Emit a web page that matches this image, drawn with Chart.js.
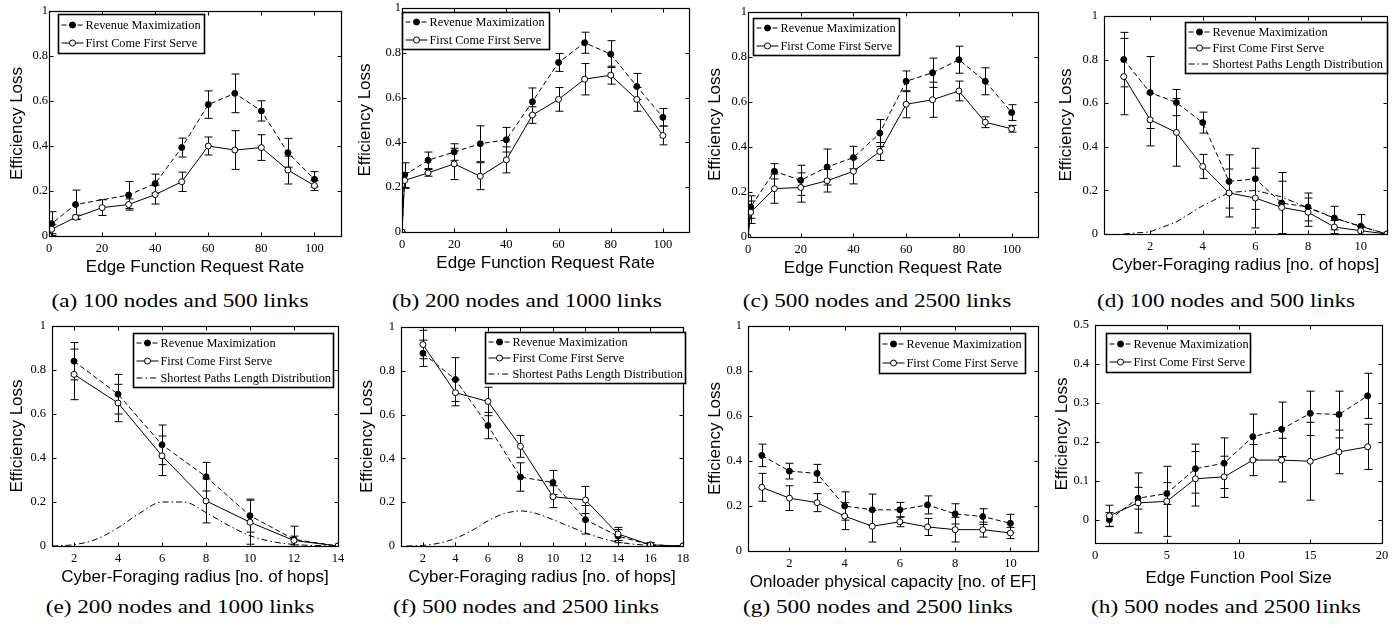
<!DOCTYPE html>
<html lang="en">
<head>
<meta charset="UTF-8">
<title>Efficiency loss</title>
<script src="https://cdn.jsdelivr.net/npm/chart.js"></script>
<style>
  body { margin: 0; background: #fff; width: 1399px; height: 628px; position: relative; overflow: hidden; }
  canvas { position: absolute; }
  .cap { position: absolute; font-family: "Liberation Serif", "Times New Roman", serif; font-size: 19px;
         white-space: nowrap; transform: translate(-50%, -50%) scaleX(1.22); color: #000; }
</style>
</head>
<body>
<script>
// ---------- data ----------
const lossTicks = [0, 0.2, 0.4, 0.6, 0.8, 1];

// (a)-(c): request rate
const rateX = [0, 1, 10, 20, 30, 40, 50, 60, 70, 80, 90, 100];
const rateTicks = [0, 20, 40, 60, 80, 100];

const revA = [0, 0.055, 0.14, null, 0.182, 0.233, 0.393, 0.584, 0.634, 0.556, 0.37, 0.252];
const revErrA = [0, 0.053, 0.064, 0, 0.06, 0.042, 0.042, 0.061, 0.086, 0.045, 0.064, 0.034];
const fcfsA = [0, 0.03, 0.083, 0.126, 0.14, 0.184, 0.241, 0.40, 0.382, 0.393, 0.293, 0.224];
const fcfsErrA = [0, 0.02, 0.01, 0.035, 0.025, 0.042, 0.043, 0.04, 0.086, 0.057, 0.062, 0.022];

const revB = [0, 0.254, 0.32, 0.357, 0.394, 0.412, 0.582, 0.757, 0.845, 0.794, 0.65, 0.512];
const revErrB = [0, 0.055, 0.037, 0.037, 0.08, 0.055, 0.061, 0.04, 0.047, 0.06, 0.058, 0.039];
const fcfsB = [0, 0.23, 0.264, 0.304, 0.249, 0.322, 0.522, 0.592, 0.682, 0.70, 0.592, 0.431];
const fcfsErrB = [0, 0.035, 0.015, 0.07, 0.06, 0.058, 0.037, 0.053, 0.07, 0.04, 0.053, 0.042];

const revC = [0, 0.133, 0.292, 0.252, 0.311, 0.353, 0.462, 0.692, 0.73, 0.788, 0.692, 0.553];
const revErrC = [0, 0.05, 0.034, 0.067, 0.08, 0.05, 0.06, 0.046, 0.065, 0.06, 0.06, 0.035];
const fcfsC = [0, 0.11, 0.215, 0.22, 0.25, 0.292, 0.38, 0.59, 0.61, 0.649, 0.51, 0.481];
const fcfsErrC = [0, 0.05, 0.065, 0.065, 0.05, 0.056, 0.04, 0.06, 0.078, 0.044, 0.024, 0.015];

// (d)-(f): cyber-foraging radius
const hopsD = [1, 2, 3, 4, 5, 6, 7, 8, 9, 10, 11];
const hopTicksD = [2, 4, 6, 8, 10];
const revD = [0.80, 0.649, 0.603, 0.511, 0.241, 0.253, 0.142, 0.124, 0.073, 0.035, 0];
const revErrD = [0.125, 0.165, 0.06, 0.048, 0.122, 0.14, 0.14, 0.064, 0.054, 0.054, 0];
const fcfsD = [0.722, 0.524, 0.466, 0.31, 0.188, 0.165, 0.122, 0.1, 0.032, 0.015, 0];
const fcfsErrD = [0.175, 0.12, 0.155, 0.055, 0.11, 0.137, 0.12, 0.065, 0.03, 0.02, 0];
const splD = [0, 0.01, 0.055, 0.13, 0.19, 0.2, 0.17, 0.12, 0.073, 0.035, 0];

const hopsE = [2, 4, 6, 8, 10, 12, 14];
const revE = [0.84, 0.69, 0.46, 0.315, 0.138, 0.03, 0];
const revErrE = [0.085, 0.09, 0.09, 0.065, 0.075, 0.06, 0];
const fcfsE = [0.78, 0.65, 0.41, 0.205, 0.108, 0.025, 0];
const fcfsErrE = [0.115, 0.085, 0.09, 0.1, 0.1, 0.02, 0];
const splHopsE = [1, 2, 3, 4, 5, 6, 7, 8, 9, 10, 11, 12, 13, 14];
const splE = [0, 0.006, 0.03, 0.083, 0.15, 0.2, 0.2, 0.152, 0.095, 0.047, 0.02, 0.007, 0.002, 0];

const hopsF = [2, 4, 6, 8, 10, 12, 14, 16, 18];
const revF = [0.88, 0.76, 0.55, 0.315, 0.29, 0.12, 0.045, 0.005, 0];
const revErrF = [0.06, 0.1, 0.06, 0.065, 0.055, 0.065, 0.03, 0.01, 0];
const fcfsF = [0.92, 0.70, 0.66, 0.455, 0.225, 0.21, 0.055, 0.005, 0];
const fcfsErrF = [0.065, 0.06, 0.065, 0.05, 0.05, 0.062, 0.03, 0.01, 0];
const splHopsF = [1, 2, 3, 4, 5, 6, 7, 8, 9, 10, 11, 12, 13, 14, 15, 16, 17, 18];
const splF = [0, 0.003, 0.013, 0.035, 0.07, 0.115, 0.148, 0.16, 0.148, 0.12, 0.09, 0.06, 0.035, 0.018, 0.008, 0.003, 0.001, 0];

// (g): onloader capacity
const capG = [1, 2, 3, 4, 5, 6, 7, 8, 9, 10];
const capTicksG = [2, 4, 6, 8, 10];
const revG = [0.425, 0.355, 0.345, 0.2, 0.183, 0.183, 0.205, 0.165, 0.153, 0.123];
const revErrG = [0.05, 0.035, 0.04, 0.063, 0.07, 0.033, 0.04, 0.045, 0.035, 0.04];
const fcfsG = [0.283, 0.235, 0.215, 0.155, 0.11, 0.13, 0.107, 0.095, 0.095, 0.08];
const fcfsErrG = [0.062, 0.055, 0.04, 0.06, 0.07, 0.022, 0.038, 0.055, 0.033, 0.025];

// (h): pool size
const poolH = [1, 3, 5, 7, 9, 11, 13, 15, 17, 19];
const poolTicksH = [0, 5, 10, 15, 20];
const lossTicksH = [0, 0.1, 0.2, 0.3, 0.4, 0.5];
const revH = [0, 0.055, 0.067, 0.131, 0.145, 0.213, 0.232, 0.273, 0.27, 0.318];
const revErrH = [0.018, 0.028, 0.028, 0.063, 0.065, 0.058, 0.07, 0.057, 0.06, 0.058];
const fcfsH = [0.01, 0.043, 0.047, 0.105, 0.11, 0.153, 0.153, 0.15, 0.174, 0.187];
const fcfsErrH = [0.027, 0.077, 0.09, 0.07, 0.053, 0.04, 0.056, 0.1, 0.056, 0.058];

const labelRev = 'Revenue Maximization';
const labelFcfs = 'First Come First Serve';
const labelSpl = 'Shortest Paths Length Distribution';

// ---------- styles ----------
const serif = '"Liberation Serif", "Times New Roman", serif';
const sans = '"Liberation Sans", Arial, sans-serif';
const styleRev = { dash: [5, 3], fill: '#000', radius: 3, order: 1 };
const styleFcfs = { dash: [], fill: '#fff', radius: 3, order: 0 };
const styleSpl = { dash: [6, 3, 1.5, 3], fill: '#000', radius: 0, order: 2 };

function series(label, xs, ys, errs, style, smooth) {
  return { label, xs, ys, errs, style, smooth };
}

// error bars drawn through the chart's own scales
const errorBars = {
  id: 'errorBars',
  beforeDatasetsDraw(chart) {
    const { ctx, chartArea: a, scales: { x, y } } = chart;
    ctx.save();
    ctx.beginPath();
    ctx.rect(a.left, a.top, a.right - a.left, a.bottom - a.top);
    ctx.clip();
    ctx.strokeStyle = '#000';
    ctx.lineWidth = 1;
    chart.data.datasets.forEach(ds => {
      if (!ds.errs) return;
      ds.data.forEach((pt, i) => {
        const e = ds.errs[i];
        if (pt.y == null || !e) return;
        const px = Math.round(x.getPixelForValue(pt.x)) + 0.5;
        const y1 = y.getPixelForValue(pt.y - e);
        const y2 = y.getPixelForValue(pt.y + e);
        ctx.beginPath();
        ctx.moveTo(px, y1); ctx.lineTo(px, y2);
        ctx.moveTo(px - 4, y1); ctx.lineTo(px + 4, y1);
        ctx.moveTo(px - 4, y2); ctx.lineTo(px + 4, y2);
        ctx.stroke();
      });
    });
    ctx.restore();
  }
};

// matlab style box with inward ticks, plus the legend box
const frameAndLegend = {
  id: 'frameAndLegend',
  afterDraw(chart, args, opts) {
    const { ctx, chartArea: a, scales: { x, y } } = chart;
    const l = Math.round(a.left) + 0.5, r = Math.round(a.right) + 0.5;
    const t = Math.round(a.top) + 0.5, b = Math.round(a.bottom) + 0.5;
    ctx.save();
    ctx.strokeStyle = '#000';
    ctx.lineWidth = 1.2;
    ctx.setLineDash([]);
    ctx.strokeRect(l, t, r - l, b - t);
    ctx.lineWidth = 1;
    ctx.beginPath();
    x.ticks.forEach(tk => {
      const px = Math.round(x.getPixelForValue(tk.value)) + 0.5;
      ctx.moveTo(px, b); ctx.lineTo(px, b - 4);
      ctx.moveTo(px, t); ctx.lineTo(px, t + 4);
    });
    y.ticks.forEach(tk => {
      const py = Math.round(y.getPixelForValue(tk.value)) + 0.5;
      ctx.moveTo(l, py); ctx.lineTo(l + 4, py);
      ctx.moveTo(r, py); ctx.lineTo(r - 4, py);
    });
    ctx.stroke();

    // legend
    const lg = opts.box;
    const items = opts.items;
    const x0 = Math.round(a.left + lg.x) + 0.5, y0 = Math.round(a.top + lg.y) + 0.5;
    ctx.fillStyle = '#fff';
    ctx.fillRect(x0, y0, lg.w, lg.h);
    ctx.lineWidth = 1.6;
    ctx.strokeRect(x0, y0, lg.w, lg.h);
    ctx.font = '12.3px ' + serif;
    ctx.textBaseline = 'middle';
    items.forEach((s, i) => {
      const cy = Math.round(y0 + 1 + (lg.h - 2) * (i + 0.5) / items.length);
      ctx.lineWidth = 1;
      ctx.setLineDash(s.style.dash);
      ctx.beginPath();
      ctx.moveTo(x0 + 3, cy); ctx.lineTo(x0 + 25, cy);
      ctx.stroke();
      ctx.setLineDash([]);
      if (s.style.radius) {
        ctx.beginPath();
        ctx.arc(x0 + 14, cy, 3, 0, Math.PI * 2);
        ctx.fillStyle = s.style.fill;
        ctx.fill();
        ctx.stroke();
      }
      ctx.fillStyle = '#000';
      ctx.fillText(s.label, x0 + 27, cy + 0.5);
    });
    ctx.restore();
  }
};

function makePanel(p) {
  const padT = 10, padR = 12, hx = p.hx || 42;
  const [L, T, R, B] = p.box;
  const canvas = document.createElement('canvas');
  canvas.width = p.wy + (R - L) + padR;
  canvas.height = padT + (B - T) + hx;
  canvas.style.left = (L - p.wy) + 'px';
  canvas.style.top = (T - padT) + 'px';
  document.body.appendChild(canvas);

  const cap = document.createElement('div');
  cap.className = 'cap';
  cap.textContent = p.caption;
  cap.style.left = p.capX + 'px';
  cap.style.top = p.capY + 'px';
  document.body.appendChild(cap);

  const datasets = p.series.map(s => ({
    label: s.label,
    data: s.xs.map((x, i) => ({ x, y: s.ys[i] })),
    errs: s.errs,
    borderColor: '#000',
    borderWidth: 1,
    borderDash: s.style.dash,
    pointRadius: s.style.radius,
    pointBackgroundColor: s.style.fill,
    pointBorderColor: '#000',
    pointBorderWidth: 1,
    order: s.style.order,
    spanGaps: true,
    tension: s.smooth ? 0.4 : 0,
    cubicInterpolationMode: s.smooth ? 'monotone' : 'default'
  }));

  new Chart(canvas, {
    type: 'line',
    data: { datasets },
    plugins: [errorBars, frameAndLegend],
    options: {
      responsive: false,
      maintainAspectRatio: false,
      devicePixelRatio: 1,
      animation: false,
      events: [],
      layout: { padding: { left: 0, top: padT, right: padR, bottom: 0 } },
      plugins: {
        legend: { display: false },
        tooltip: { enabled: false },
        frameAndLegend: { box: p.legend, items: p.series }
      },
      scales: {
        x: {
          type: 'linear',
          min: p.xMin, max: p.xMax,
          grid: { display: false, drawTicks: false },
          border: { display: false },
          afterBuildTicks: s => { s.ticks = p.xTicks.map(v => ({ value: v })); },
          afterFit: s => { s.height = hx; s.paddingLeft = 0; s.paddingRight = 0; },
          ticks: { color: '#000', font: { family: serif, size: 12.5 }, padding: 5, maxRotation: 0,
                   callback: v => String(v) },
          title: { display: true, text: p.xTitle, color: '#000',
                   font: { family: sans, size: 17 }, padding: { top: 0, bottom: 0 } }
        },
        y: {
          type: 'linear',
          min: p.yMin, max: p.yMax,
          grid: { display: false, drawTicks: false },
          border: { display: false },
          afterBuildTicks: s => { s.ticks = p.yTicks.map(v => ({ value: v })); },
          afterFit: s => { s.width = p.wy; s.paddingTop = 0; s.paddingBottom = 0; },
          ticks: { color: '#000', font: { family: serif, size: 12.5 }, padding: p.yPad,
                   callback: v => String(v) },
          title: { display: true, text: 'Efficiency Loss', color: '#000',
                   font: { family: sans, size: 17 }, padding: { top: 0, bottom: 0 } }
        }
      }
    }
  });
}

const rateTitle = 'Edge Function Request Rate';
const hopsTitle = 'Cyber-Foraging radius [no. of hops]';

makePanel({
  box: [49, 11, 341, 236], wy: 42, yPad: 1,
  xMin: 0, xMax: 110, xTicks: rateTicks, yMin: 0, yMax: 1, yTicks: lossTicks,
  xTitle: rateTitle, caption: '(a) 100 nodes and 500 links', capX: 180, capY: 301,
  legend: { x: 9, y: 3, w: 146, h: 39 },
  series: [series(labelRev, rateX, revA, revErrA, styleRev),
           series(labelFcfs, rateX, fcfsA, fcfsErrA, styleFcfs)]
});
makePanel({
  box: [402, 8, 689, 232], wy: 47, yPad: 1,
  xMin: 0, xMax: 110, xTicks: rateTicks, yMin: 0, yMax: 1, yTicks: lossTicks,
  xTitle: rateTitle, caption: '(b) 200 nodes and 1000 links', capX: 527, capY: 301,
  legend: { x: 0, y: 4, w: 147, h: 37 },
  series: [series(labelRev, rateX, revB, revErrB, styleRev),
           series(labelFcfs, rateX, fcfsB, fcfsErrB, styleFcfs)]
});
makePanel({
  box: [748, 12, 1038, 237], wy: 43, yPad: 1,
  xMin: 0, xMax: 110, xTicks: rateTicks, yMin: 0, yMax: 1, yTicks: lossTicks,
  xTitle: rateTitle, caption: '(c) 500 nodes and 2500 links', capX: 877, capY: 301,
  legend: { x: 5, y: 6, w: 146, h: 37 },
  series: [series(labelRev, rateX, revC, revErrC, styleRev),
           series(labelFcfs, rateX, fcfsC, fcfsErrC, styleFcfs)]
});
makePanel({
  box: [1104, 16, 1387, 234], wy: 48, yPad: 6,
  xMin: 0.25, xMax: 11, xTicks: hopTicksD, yMin: 0, yMax: 1, yTicks: lossTicks,
  xTitle: hopsTitle, caption: '(d) 100 nodes and 500 links', capX: 1226, capY: 301,
  legend: { x: 81, y: 6, w: 202, h: 51 },
  series: [series(labelRev, hopsD, revD, revErrD, styleRev),
           series(labelFcfs, hopsD, fcfsD, fcfsErrD, styleFcfs),
           series(labelSpl, hopsD, splD, null, styleSpl)]
});
makePanel({
  box: [52, 326, 338, 546], wy: 45, yPad: 6,
  xMin: 1, xMax: 14, xTicks: [2, 4, 6, 8, 10, 12, 14], yMin: 0, yMax: 1, yTicks: lossTicks,
  xTitle: hopsTitle, caption: '(e) 200 nodes and 1000 links', capX: 180, capY: 607,
  legend: { x: 81, y: 7, w: 200, h: 54 },
  series: [series(labelRev, hopsE, revE, revErrE, styleRev),
           series(labelFcfs, hopsE, fcfsE, fcfsErrE, styleFcfs),
           series(labelSpl, splHopsE, splE, null, styleSpl, true)]
});
makePanel({
  box: [401, 327, 683, 546], wy: 44, yPad: 6,
  xMin: 0.65, xMax: 18, xTicks: [2, 4, 6, 8, 10, 12, 14, 16, 18], yMin: 0, yMax: 1, yTicks: lossTicks,
  xTitle: hopsTitle, caption: '(f) 500 nodes and 2500 links', capX: 526, capY: 607,
  legend: { x: 84, y: 5, w: 200, h: 51 },
  series: [series(labelRev, hopsF, revF, revErrF, styleRev),
           series(labelFcfs, hopsF, fcfsF, fcfsErrF, styleFcfs),
           series(labelSpl, splHopsF, splF, null, styleSpl, true)]
});
makePanel({
  box: [748, 326, 1038, 551], wy: 43, yPad: 6,
  xMin: 0.5, xMax: 11, xTicks: capTicksG, yMin: 0, yMax: 1, yTicks: lossTicks,
  xTitle: 'Onloader physical capacity [no. of EF]', caption: '(g) 500 nodes and 2500 links', capX: 878, capY: 607,
  legend: { x: 131, y: 7, w: 146, h: 40 },
  series: [series(labelRev, capG, revG, revErrG, styleRev),
           series(labelFcfs, capG, fcfsG, fcfsErrG, styleFcfs)]
});
makePanel({
  box: [1095, 325, 1382, 543], wy: 43, yPad: 6, hx: 46,
  xMin: 0, xMax: 20, xTicks: poolTicksH, yMin: -0.06, yMax: 0.5, yTicks: lossTicksH,
  xTitle: 'Edge Function Pool Size', caption: '(h) 500 nodes and 2500 links', capX: 1226, capY: 607,
  legend: { x: 11, y: 8, w: 144, h: 39 },
  series: [series(labelRev, poolH, revH, revErrH, styleRev),
           series(labelFcfs, poolH, fcfsH, fcfsErrH, styleFcfs)]
});
</script>
</body>
</html>
